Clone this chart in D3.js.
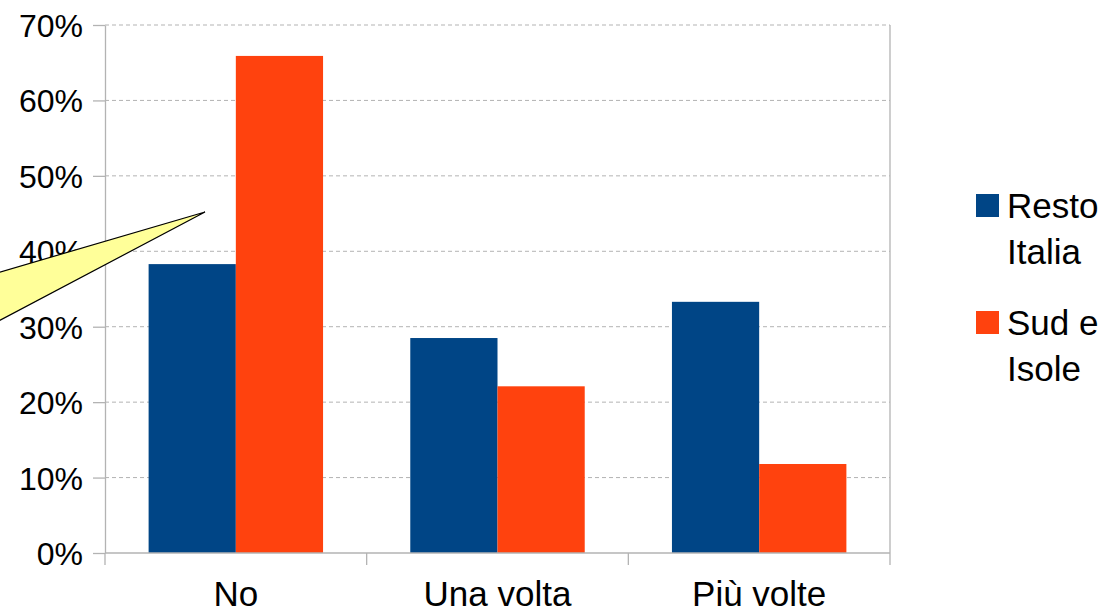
<!DOCTYPE html>
<html>
<head>
<meta charset="utf-8">
<script src="https://cdn.jsdelivr.net/npm/d3@7"></script>
<style>
  html, body { margin: 0; padding: 0; background: #fff; }
  svg { display: block; font-family: "Liberation Sans", Arial, sans-serif; }
</style>
</head>
<body>
<svg id="chart" width="1116" height="611"></svg>
<script>
// Answer categories and share of respondents per area
const categories = ["No", "Una volta", "Più volte"];
const seriesNames = ["Resto Italia", "Sud e Isole"];
const seriesLines = [["Resto", "Italia"], ["Sud e", "Isole"]];
const restoItalia = [0.383, 0.285, 0.333];
const sudIsole = [0.659, 0.221, 0.118];
const yTicks = [0, 0.1, 0.2, 0.3, 0.4, 0.5, 0.6, 0.7];
const colors = ["#004586", "#ff420e"];

const seriesValues = [restoItalia, sudIsole];
const rows = categories.map((c, i) => ({
  category: c,
  values: seriesNames.map((s, k) => ({ series: s, k, value: seriesValues[k][i] }))
}));

const svg = d3.select("#chart");
const plot = { left: 105, right: 890, top: 25, bottom: 553 };
const grey = "#b3b3b3";

const x = d3.scaleBand().domain(categories).range([plot.left, plot.right]).padding(0);
const bw = x.bandwidth();
const xInner = d3.scaleBand().domain(seriesNames).range([bw / 6, bw * 5 / 6]).padding(0);
const y = d3.scaleLinear().domain([0, 0.7]).range([plot.bottom, plot.top]);

// Horizontal dashed grid
svg.append("g")
  .selectAll("line")
  .data(yTicks.filter(t => t > 0))
  .join("line")
  .attr("x1", plot.left).attr("x2", plot.right)
  .attr("y1", d => y(d)).attr("y2", d => y(d))
  .attr("stroke", grey).attr("stroke-width", 1)
  .attr("stroke-dasharray", "4,3");

// Right frame edge
svg.append("line")
  .attr("x1", plot.right).attr("x2", plot.right)
  .attr("y1", plot.top).attr("y2", plot.bottom)
  .attr("stroke", grey).attr("stroke-width", 1.3);

// Bars
svg.append("g")
  .selectAll("g")
  .data(rows)
  .join("g")
  .attr("transform", d => `translate(${x(d.category)},0)`)
  .selectAll("rect")
  .data(d => d.values)
  .join("rect")
  .attr("x", d => xInner(d.series))
  .attr("width", xInner.bandwidth())
  .attr("y", d => y(d.value))
  .attr("height", d => y(0) - y(d.value))
  .attr("fill", d => colors[d.k]);

// Y axis
const yAxis = svg.append("g")
  .attr("transform", `translate(${plot.left},0)`)
  .call(d3.axisLeft(y).tickValues(yTicks).tickFormat(d3.format(".0%")).tickSize(12).tickSizeOuter(0).tickPadding(10));
yAxis.select(".domain").attr("stroke", grey).attr("stroke-width", 1.3);
yAxis.selectAll(".tick line").attr("stroke", grey).attr("stroke-width", 1.3);
yAxis.selectAll(".tick text")
  .attr("font-size", 32).attr("fill", "#000")
  .attr("font-family", "Liberation Sans, Arial, sans-serif")
  .attr("dy", "0.36em");

// X axis: ticks sit on category boundaries
const xAxis = svg.append("g")
  .attr("transform", `translate(0,${plot.bottom})`);
xAxis.append("line")
  .attr("x1", plot.left).attr("x2", plot.right)
  .attr("y1", 0).attr("y2", 0)
  .attr("stroke", grey).attr("stroke-width", 1.3);
const boundaries = categories.map(c => x(c)).concat([x(categories[categories.length - 1]) + bw]);
xAxis.selectAll("line.tk")
  .data(boundaries)
  .join("line")
  .attr("class", "tk")
  .attr("x1", d => d).attr("x2", d => d)
  .attr("y1", 0).attr("y2", 12)
  .attr("stroke", grey).attr("stroke-width", 1.3);
xAxis.selectAll("text")
  .data(categories)
  .join("text")
  .attr("x", d => x(d) + bw / 2)
  .attr("y", 53)
  .attr("text-anchor", "middle")
  .attr("font-size", 35)
  .attr("fill", "#000")
  .text(d => d);

// Legend
const legend = svg.append("g");
const legendItems = legend.selectAll("g")
  .data(seriesNames)
  .join("g")
  .attr("transform", (d, i) => `translate(976,${194 + i * 117})`);
legendItems.append("rect")
  .attr("width", 23).attr("height", 23)
  .attr("fill", (d, i) => colors[i]);
legendItems.each(function (d, i) {
  const t = d3.select(this).append("text")
    .attr("font-size", 35).attr("fill", "#000");
  seriesLines[i].forEach((line, j) => {
    t.append("tspan").attr("x", 31).attr("y", 24 + j * 46).text(line);
  });
});

// Callout pointer (body lies beyond the left edge)
const tip = [205, 212];
const calloutPts = [tip, [-60, 212 + 0.293 * 265], [-60, 212 + 0.528 * 265]];
svg.append("polygon")
  .attr("points", calloutPts.map(p => p.join(",")).join(" "))
  .attr("fill", "#ffff99")
  .attr("stroke", "#000")
  .attr("stroke-width", 1.2)
  .attr("stroke-linejoin", "miter");
</script>
</body>
</html>
